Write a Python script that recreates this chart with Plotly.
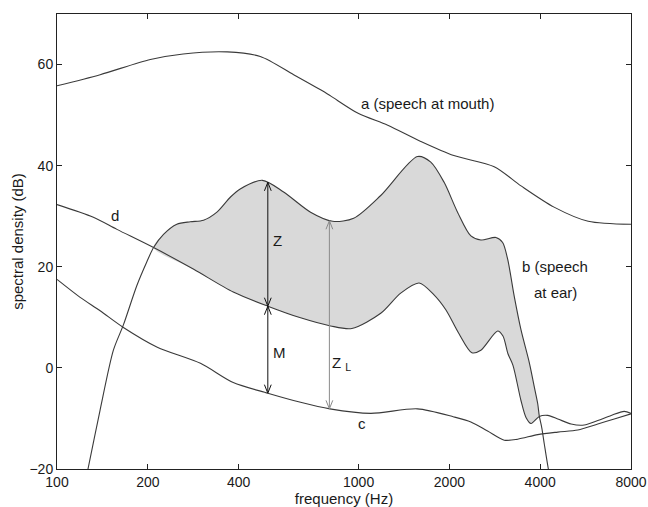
import numpy as np
import plotly.graph_objects as go

# ---------------- data ----------------
# curve a: speech at mouth
freq_a = [100, 139, 204, 262, 367, 472, 609, 748, 807, 1000, 1249, 1607, 2069, 2816, 3455, 4446, 5770, 8000]
db_a = [55.8, 58.0, 61.0, 62.1, 62.5, 61.6, 58.0, 55.0, 53.8, 50.3, 48.0, 44.8, 42.0, 39.8, 36.0, 31.8, 29.0, 28.4]

# curve b: speech at ear
freq_b = [121, 126.5, 138.9, 153.8, 166, 184, 198.6, 209, 225.5, 249.6, 276.6, 306, 339, 376, 405, 480,
          564, 693, 820, 963, 1184, 1567, 1735, 1921, 2128, 2356, 2543, 2853, 3003, 3120, 3282, 3455,
          3682, 3825, 3925, 3974, 4047, 4128, 4257, 4345]
db_b = [-25.7, -20.2, -8.4, 3.5, 8.5, 16.3, 21.0, 23.8, 26.4, 28.4, 28.9, 29.2, 30.8, 33.8, 35.4, 37.1,
        34.8, 30.8, 29.0, 29.6, 34.1, 41.8, 40.7, 36.7, 30.8, 26.1, 25.3, 25.8, 24.8, 21.5, 14.1, 7.5,
        1.0, -3.8, -7.1, -9.6, -11.8, -15.1, -20.0, -22.5]

# curve c
freq_c = [100, 119, 139, 166, 215, 299, 384, 500, 642, 803, 1097, 1567, 2069, 2356, 2677, 3040, 3368,
          3925, 4574, 5330, 6210, 7040, 8000]
db_c = [17.5, 14.0, 11.3, 8.0, 4.1, 0.9, -2.9, -5.0, -6.8, -8.1, -9.0, -8.1, -9.7, -10.7, -12.5, -14.3,
        -14.1, -13.2, -12.7, -12.3, -11.1, -10.1, -9.1]

# curve d (masked threshold)
freq_d = [100, 132, 158, 209, 284, 384, 500, 642, 807, 950, 1184, 1379, 1587, 1775, 1946, 2150, 2374,
          2543, 2890, 3010, 3127, 3249, 3455, 3589, 3730, 3974, 4237, 4574, 5064, 5594, 6210, 6877,
          7596, 8000]
db_d = [32.3, 29.8, 27.4, 23.8, 19.5, 15.0, 12.2, 9.9, 8.3, 7.8, 10.8, 14.8, 16.8, 14.5, 11.5, 6.8, 3.0,
        3.5, 7.3, 6.3, 2.8, 0.5, -6.5, -9.8, -11.0, -9.6, -9.4, -10.1, -11.1, -11.3, -10.4, -9.4,
        -8.6, -9.0]

# crossing frequencies of b and d bounding the shaded area
shade_lo, shade_hi = 209, 3974

# arrows: frequency, low end, high end
arrow_freq = [500, 500, 800]
arrow_low = [12.2, -5.0, -8.1]
arrow_high = [36.7, 12.2, 29.1]
arrow_colors = ["#111111", "#111111", "#8a8a8a"]

x_ticks = [100, 200, 400, 1000, 2000, 4000, 8000]
y_ticks = [-20, 0, 20, 40, 60]

# text labels: (text, freq, dB, xanchor)
labels = [
    ("a (speech at mouth)", 1000, 52.3, "left"),
    ("b (speech", 3430, 20.1, "left"),
    ("at ear)", 3760, 14.9, "left"),
    ("c", 1029, -11.0, "center"),
    ("d", 156, 30.1, "center"),
    ("Z", 537, 25.1, "center"),
    ("M", 548, 3.0, "center"),
    ("Z <sub>L</sub>", 880, 0.9, "center"),
]

# ---------------- figure ----------------
FONT = "Liberation Sans, Arial, Helvetica, sans-serif"
LINE = "#3a3a3a"
HEAD_DX, HEAD_DY = 4, 10   # arrow-head arm size in pixels (style)

fig = go.Figure()

fb = np.array(freq_b); vb = np.array(db_b)
fd = np.array(freq_d); vd = np.array(db_d)
mb = (fb >= shade_lo) & (fb <= shade_hi)
md = (fd >= shade_lo) & (fd <= shade_hi)
poly_x = list(fb[mb]) + list(fd[md][::-1])
poly_y = list(vb[mb]) + list(vd[md][::-1])

fig.add_trace(go.Scatter(x=poly_x, y=poly_y, mode="lines", fill="toself",
                         fillcolor="#d9d9d9", line=dict(width=0, shape="spline", smoothing=0.8),
                         hoverinfo="skip", showlegend=False))

for fx, fy in [(freq_a, db_a), (freq_b, db_b), (freq_c, db_c), (freq_d, db_d)]:
    fig.add_trace(go.Scatter(x=fx, y=fy, mode="lines",
                             line=dict(color=LINE, width=1.1, shape="spline", smoothing=0.8),
                             showlegend=False))

annotations = []
for f, lo, hi, col in zip(arrow_freq, arrow_low, arrow_high, arrow_colors):
    lx = float(np.log10(f))
    # shaft
    annotations.append(dict(x=lx, y=hi, ax=lx, ay=lo, xref="x", yref="y", axref="x", ayref="y",
                            text="", showarrow=True, arrowhead=0, arrowwidth=1,
                            arrowcolor=col, standoff=0))
    # open V heads (arms drawn as short pixel-offset lines from each tip)
    for tip, sgn in [(hi, 1), (lo, -1)]:
        for side in (-1, 1):
            annotations.append(dict(x=lx, y=tip, xref="x", yref="y",
                                    ax=side * HEAD_DX, ay=sgn * HEAD_DY,
                                    text="", showarrow=True, arrowhead=0, arrowwidth=1,
                                    arrowcolor=col, standoff=0))
for txt, f, v, xa in labels:
    annotations.append(dict(x=float(np.log10(f)), y=v, xref="x", yref="y", text=txt,
                            showarrow=False, xanchor=xa, yanchor="middle",
                            font=dict(family=FONT, size=15, color="#1a1a1a")))

fig.update_layout(
    width=648, height=507,
    margin=dict(l=57, r=17, t=14, b=38, autoexpand=False),
    paper_bgcolor="white", plot_bgcolor="white",
    showlegend=False,
    annotations=annotations,
    font=dict(family=FONT, size=14, color="#1a1a1a"),
)
fig.update_xaxes(type="log", range=[np.log10(100), np.log10(8000)],
                 tickvals=x_ticks, ticktext=[str(t) for t in x_ticks],
                 ticks="inside", ticklen=5, tickcolor="#222", showline=True, linecolor="#222",
                 linewidth=1, mirror="ticks", showgrid=False, zeroline=False, automargin=False,
                 tickfont=dict(size=14),
                 title=dict(text="frequency (Hz)", font=dict(size=15), standoff=2))
fig.update_yaxes(range=[-20, 70], tickvals=y_ticks,
                 ticks="inside", ticklen=5, tickcolor="#222", showline=True, linecolor="#222",
                 linewidth=1, mirror="ticks", showgrid=False, zeroline=False, automargin=False,
                 tickfont=dict(size=14),
                 title=dict(text="spectral density (dB)", font=dict(size=15), standoff=2))

# remove the page's default body margin so the figure fills the window exactly
fig.write_html("out.html",
               config={"displayModeBar": False, "staticPlot": True},
               post_script="document.body.style.margin='0';document.body.style.overflow='hidden';")
